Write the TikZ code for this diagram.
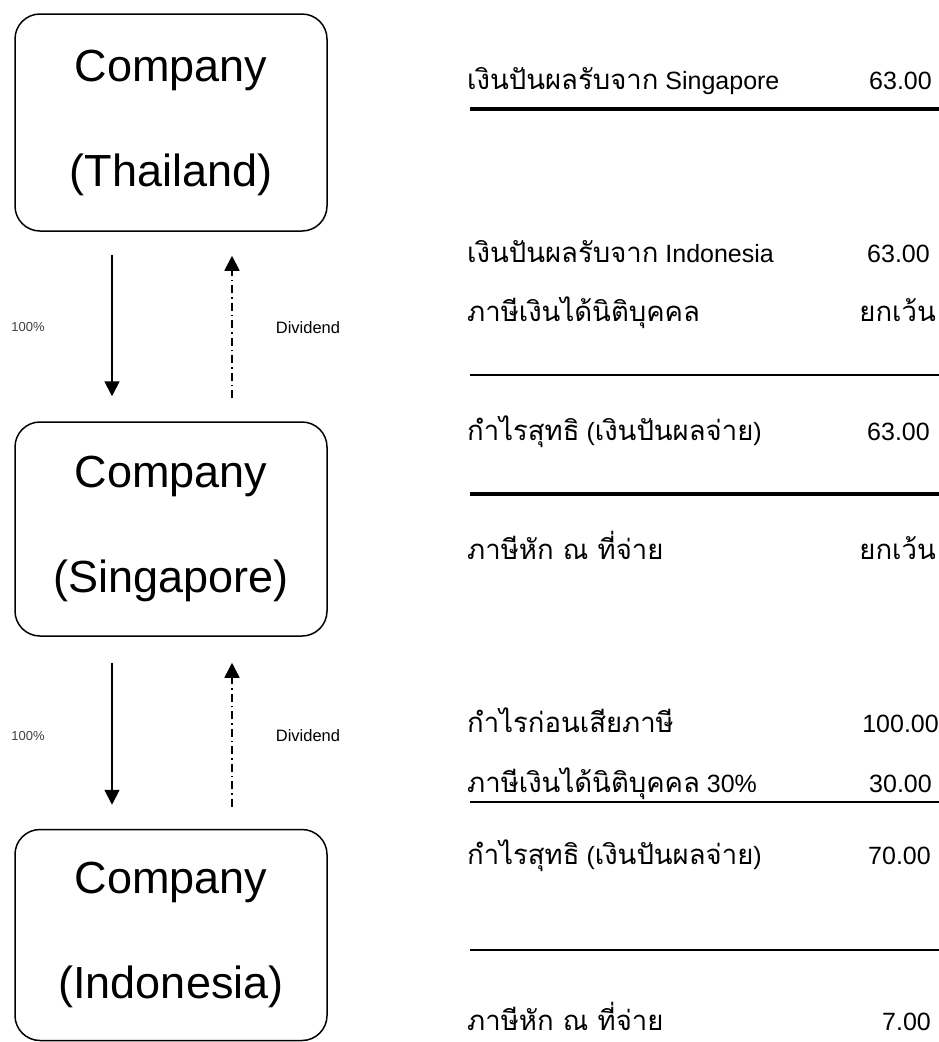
\documentclass[tikz,border=0pt]{standalone}
\usepackage{fontspec}
\setmainfont{Liberation Sans}
\newfontfamily\thaif[Script=Thai,Scale=1.1]{Loma}
\usetikzlibrary{arrows.meta}
\begin{document}
\begin{tikzpicture}[x=1pt,y=-1pt,
  company/.style={draw,line width=1.5pt,rounded corners=25pt,minimum width=312pt,
    align=center,font=\fontsize{45}{105}\selectfont,inner sep=0pt},
  ownarrow/.style={line width=1.8pt,-{Triangle[width=15pt,length=15pt]}},
  divarrow/.style={line width=1.8pt,dash pattern=on 8pt off 4pt on 1.5pt off 4pt,-{Triangle[width=15pt,length=15pt]}},
  small/.style={font=\fontsize{13}{15}\selectfont,text=black!75},
  divlabel/.style={font=\fontsize{16.5}{19}\selectfont},
  rowtext/.style={anchor=base west,inner sep=0pt,font=\fontsize{25}{30}\selectfont},
  rowval/.style={anchor=base east,inner sep=0pt,font=\fontsize{25}{30}\selectfont},
  thickrule/.style={line width=4pt},
  thinrule/.style={line width=2pt}]
\useasboundingbox (0,0) rectangle (939,1042);
% companies
\node[company,minimum height=217pt] (th) at (171,122.5) {Company\\(Thailand)};
\node[company,minimum height=214pt] (sg) at (171,529) {Company\\(Singapore)};
\node[company,minimum height=211pt] (id) at (171,935) {Company\\(Indonesia)};
% arrows
\draw[ownarrow] ([xshift=-59pt,yshift=-23pt]th.south) -- ([xshift=-59pt,yshift=25pt]sg.north);
\draw[divarrow] ([xshift=61pt,yshift=23pt]sg.north) -- ([xshift=61pt,yshift=-24pt]th.south);
\node[small] (p1) at (28,327) {100\%};
\node[divlabel] (dv1) at (308,328) {Dividend};
\draw[ownarrow] ([xshift=-59pt,yshift=-26pt]sg.south) -- ([xshift=-59pt,yshift=24pt]id.north);
\draw[divarrow] ([xshift=61pt,yshift=22pt]id.north) -- ([xshift=61pt,yshift=-26pt]sg.south);
\node[small] (p2) at (28,736) {100\%};
\node[divlabel] (dv2) at (308,736) {Dividend};
% right side
\node[rowtext] (r1) at (467,89) {{\thaif เงินปันผลรับจาก} Singapore};
\node[rowval] (v1) at (932,89) {63.00};
\draw[thickrule] (470,109) -- (939,109);
\node[rowtext] (r2) at (467,262) {{\thaif เงินปันผลรับจาก} Indonesia};
\node[rowval] (v2) at (930,262) {63.00};
\node[rowtext] (r3) at (467,321) {\thaif ภาษีเงินได้นิติบุคคล};
\node[rowval] (v3) at (936,321) {\thaif ยกเว้น};
\draw[thinrule] (470,375) -- (939,375);
\node[rowtext] (r4) at (467,440) {{\thaif กำไรสุทธิ} ({\thaif เงินปันผลจ่าย})};
\node[rowval] (v4) at (930,440) {63.00};
\draw[thickrule] (470,494) -- (939,494);
\node[rowtext] (r5) at (467,559) {\thaif ภาษีหัก ณ ที่จ่าย};
\node[rowval] (v5) at (936,559) {\thaif ยกเว้น};
\node[rowtext] (r6) at (467,732) {\thaif กำไรก่อนเสียภาษี};
\node[rowval] (v6) at (939,732) {100.00};
\node[rowtext] (r7) at (467,792) {{\thaif ภาษีเงินได้นิติบุคคล} 30\%};
\node[rowval] (v7) at (932,792) {30.00};
\draw[thinrule] (470,802) -- (939,802);
\node[rowtext] (r8) at (467,864) {{\thaif กำไรสุทธิ} ({\thaif เงินปันผลจ่าย})};
\node[rowval] (v8) at (931,864) {70.00};
\draw[thinrule] (470,950) -- (939,950);
\node[rowtext] (r9) at (467,1030) {\thaif ภาษีหัก ณ ที่จ่าย};
\node[rowval] (v9) at (931,1030) {7.00};
\end{tikzpicture}
\end{document}
